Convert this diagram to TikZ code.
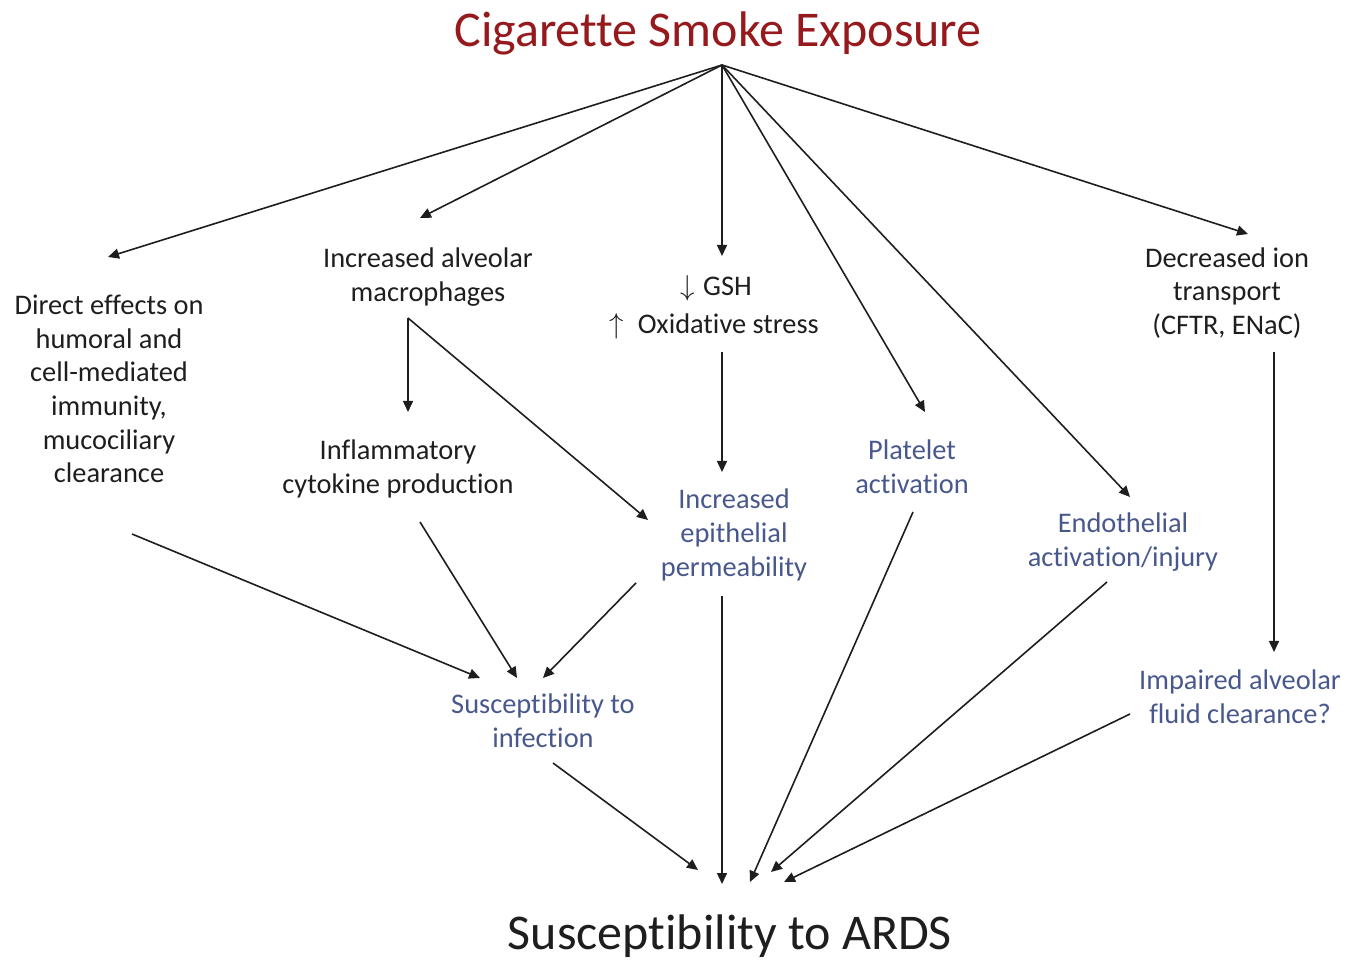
\documentclass[tikz,border=0pt]{standalone}
\usepackage{fontspec}
\setmainfont{Carlito}[Ligatures=NoCommon]
\usetikzlibrary{arrows.meta}
\definecolor{titlered}{RGB}{150,25,30}
\definecolor{nodeblue}{RGB}{72,88,140}
\definecolor{txt}{RGB}{30,30,30}
\begin{document}
\begin{tikzpicture}[x=0.5pt,y=-0.5pt,
  lab/.style={font=\fontsize{14.2}{16.8}\selectfont, text=txt, align=center, inner sep=0pt},
  bluelab/.style={lab, text=nodeblue},
  big/.style={font=\fontsize{25}{30}\selectfont, inner sep=0pt},
  conn/.style={draw=txt, line width=0.8pt, -{Triangle[length=5.5pt,width=5pt]}}]
\useasboundingbox (0,0) rectangle (1365,961);
% nodes
\node[big, text=titlered] (title) at (718,33) {Cigarette Smoke Exposure};
\node[big, text=txt] (ards) at (730,936) {Susceptibility to ARDS};
\node[lab] (direct) at (109,389) {Direct effects on\\humoral and\\cell-mediated\\immunity,\\mucociliary\\clearance};
\node[lab] (macro) at (428,277) {Increased alveolar\\macrophages};
\node[lab] (gsh) at (716,288) {$\big\downarrow$\hspace{0.3em}GSH};
\node[lab] (ox) at (714,326) {$\big\uparrow$\hspace{0.5em}Oxidative stress};
\node[lab] (ion) at (1227,293) {Decreased ion\\transport\\(CFTR, ENaC)};
\node[lab] (cyto) at (398,469) {Inflammatory\\cytokine production};
\node[bluelab] (epi) at (734,535) {Increased\\epithelial\\permeability};
\node[bluelab] (plat) at (912,467) {Platelet\\activation};
\node[bluelab] (endo) at (1123,542) {Endothelial\\activation/injury};
\node[bluelab] (inf) at (543,721) {Susceptibility to\\infection};
\node[bluelab] (imp) at (1240,697) {Impaired alveolar\\fluid clearance?};
% connector end points
\coordinate (apex) at (722,65);
\coordinate (toDirect) at (108,257);
\coordinate (toMacro) at (420,218);
\coordinate (toGsh) at (722,256);
\coordinate (toPlat) at (925,412);
\coordinate (toEndo) at (1130,497);
\coordinate (toIon) at (1248,234);
\coordinate (macroOut) at (408,318);
\coordinate (toCyto) at (408,412);
\coordinate (toEpiA) at (648,520);
\coordinate (oxOut) at (722,352);
\coordinate (toEpiB) at (722,472);
\coordinate (ionOut) at (1274,352);
\coordinate (toImp) at (1274,652);
\coordinate (directOut) at (132,534);
\coordinate (toInfA) at (480,678);
\coordinate (cytoOut) at (420,522);
\coordinate (toInfB) at (517,678);
\coordinate (epiOutA) at (636,583);
\coordinate (toInfC) at (543,678);
\coordinate (epiOutB) at (722,596);
\coordinate (toArdsB) at (722,884);
\coordinate (infOut) at (553,763);
\coordinate (toArdsA) at (698,870);
\coordinate (platOut) at (913,512);
\coordinate (toArdsC) at (750,882);
\coordinate (endoOut) at (1107,582);
\coordinate (toArdsD) at (771,872);
\coordinate (impOut) at (1130,714);
\coordinate (toArdsE) at (784,882);
% connectors
\draw[conn] (apex) -- (toDirect);
\draw[conn] (apex) -- (toMacro);
\draw[conn] (apex) -- (toGsh);
\draw[conn] (apex) -- (toPlat);
\draw[conn] (apex) -- (toEndo);
\draw[conn] (apex) -- (toIon);
\draw[conn] (macroOut) -- (toCyto);
\draw[conn] (macroOut) -- (toEpiA);
\draw[conn] (oxOut) -- (toEpiB);
\draw[conn] (ionOut) -- (toImp);
\draw[conn] (directOut) -- (toInfA);
\draw[conn] (cytoOut) -- (toInfB);
\draw[conn] (epiOutA) -- (toInfC);
\draw[conn] (epiOutB) -- (toArdsB);
\draw[conn] (infOut) -- (toArdsA);
\draw[conn] (platOut) -- (toArdsC);
\draw[conn] (endoOut) -- (toArdsD);
\draw[conn] (impOut) -- (toArdsE);
\end{tikzpicture}
\end{document}
